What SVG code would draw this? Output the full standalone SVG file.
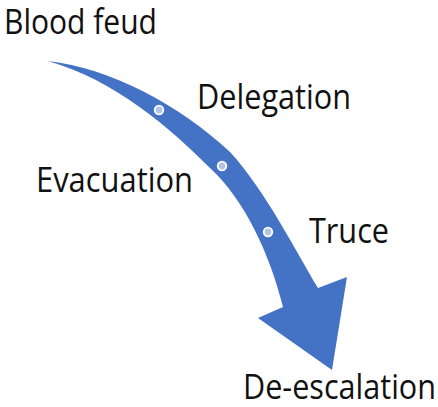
<svg xmlns="http://www.w3.org/2000/svg" width="438" height="407" viewBox="0 0 438 407">
<style>
.lbl{font-family:"Open Sans","Liberation Sans",sans-serif;font-size:34px;fill:#111;}
.dot{fill:#b4c3e6;stroke:#fff;stroke-width:1.8;}
</style>
<rect width="438" height="407" fill="#fff"/>
<g id="connectors">
<path id="arrow" fill="#4472C4" d="M48,61 C110,68 180,105 230,152 C265,190 295,250 318,288 L347,277 L332,370 L258,318 L283,307 C270,255 245,200 210,168 C170,128 115,80 48,61 Z"/>
</g>
<g id="dots">
<circle class="dot" cx="159" cy="110" r="4.3"/>
<circle class="dot" cx="222" cy="166" r="4.3"/>
<circle class="dot" cx="268" cy="232" r="4.3"/>
</g>
<g id="blood-feud"><text class="lbl" x="4" y="34" textLength="153" lengthAdjust="spacingAndGlyphs">Blood feud</text></g>
<g id="delegation"><text class="lbl" x="197" y="109" textLength="154" lengthAdjust="spacingAndGlyphs">Delegation</text></g>
<g id="evacuation"><text class="lbl" x="36" y="192" textLength="157" lengthAdjust="spacingAndGlyphs">Evacuation</text></g>
<g id="truce"><text class="lbl" x="309" y="243" textLength="80" lengthAdjust="spacingAndGlyphs">Truce</text></g>
<g id="de-escalation"><text class="lbl" x="243" y="399" textLength="193" lengthAdjust="spacingAndGlyphs">De-escalation</text></g>
</svg>
